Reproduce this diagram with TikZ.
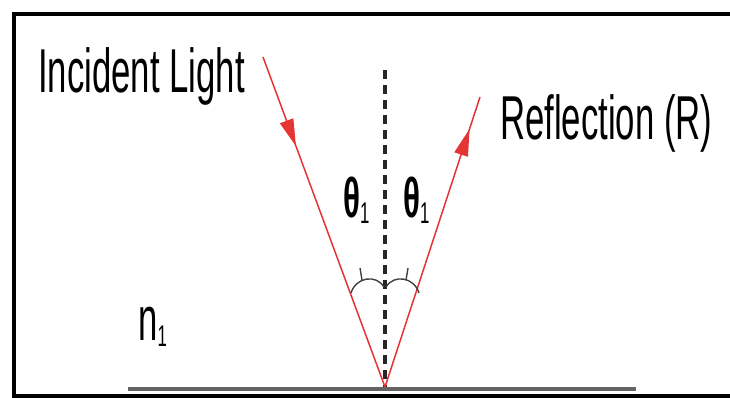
\documentclass[tikz,border=0pt]{standalone}
\usepackage{fontspec}
\newfontfamily\narrowsf[FakeStretch=0.56]{Liberation Sans}
\usepackage{tikz}
\usetikzlibrary{arrows.meta,decorations.markings}
\definecolor{rayred}{RGB}{228,52,52}
\definecolor{surfgray}{RGB}{100,100,100}
\newcommand{\thetaone}{\textbf{θ}\raisebox{-6pt}{\fontsize{30}{30}\selectfont 1}}

\begin{document}
\begin{tikzpicture}[x=1pt, y=-1pt,
  lbl/.style={anchor=base west, inner sep=0pt, font=\narrowsf\fontsize{62}{62}\selectfont},
  ray/.style={rayred, line width=1.5pt},
  raytip/.style={postaction={decorate}, decoration={markings,
      mark=at position #1 with {\arrow{Triangle[length=27pt, width=14pt]}}}},
  normal/.style={draw=black!85, line width=3.6pt, dash pattern=on 9pt off 6pt},
  angarc/.style={draw=black!75, line width=1.4pt}]
\useasboundingbox (0,0) rectangle (730,398);
\begin{scope}
\clip (0,0) rectangle (730,398);
\draw[line width=4.5pt] (14,14) rectangle (760,396);
\end{scope}
% points on the surface
\coordinate (hit) at (385,387);
\coordinate (src) at (263,57);
\coordinate (out) at (480,97);
\coordinate (top) at (385,70);
\coordinate (sl) at (128,389);
\coordinate (sr) at (636,389);
% labels
\node[lbl] (inc) at (38,93) {Incident Light};
\node[lbl] (refl) at (500,140) {Reflection (R)};
\node[lbl] (n) at (138,340) {n\raisebox{-6pt}{\fontsize{30}{30}\selectfont 1}};
\node[lbl, font=\narrowsf\fontsize{56}{56}\selectfont] (thl) at (343,217) {\thetaone};
\node[lbl, font=\narrowsf\fontsize{56}{56}\selectfont] (thr) at (403,217) {\thetaone};
% surface and normal
\draw[surfgray, line width=4pt] (sl) -- (sr);
\draw[normal] (top) -- (hit);
% rays
\draw[ray, raytip=0.27] (src) -- (hit);
\draw[ray, raytip=0.89] (hit) -- (out);
% angle marks
\draw[angarc] (351,293) .. controls (356,277) and (376,274) .. (384,287);
\draw[angarc] (386,287) .. controls (394,274) and (414,277) .. (419,293);
\draw[angarc] (360,268) -- (362,280);
\draw[angarc] (408,268) -- (406,280);
\end{tikzpicture}
\end{document}
